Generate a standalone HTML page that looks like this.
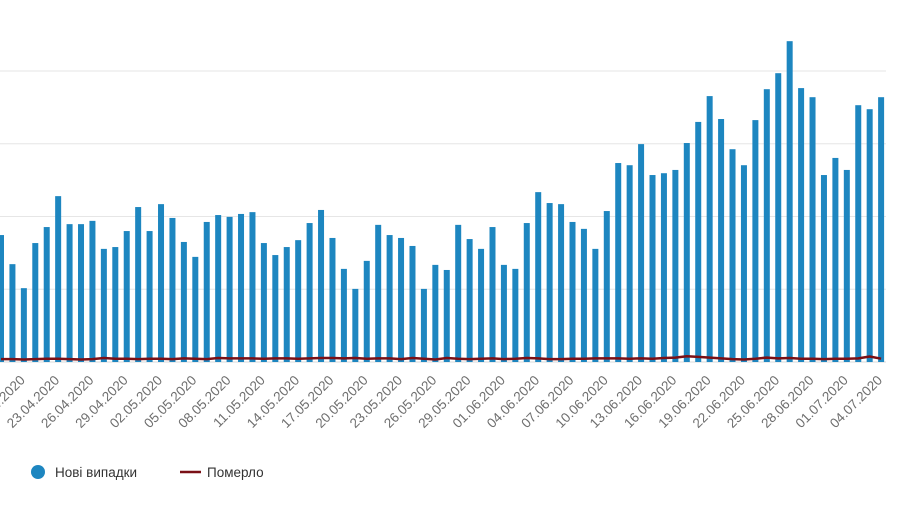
<!DOCTYPE html>
<html><head><meta charset="utf-8">
<style>
body{margin:0;background:#fff;width:900px;height:505px;overflow:hidden;font-family:"Liberation Sans",sans-serif}
svg text{font-family:"Liberation Sans",sans-serif}
</style></head>
<body>
<svg id="chart" width="900" height="505" xmlns="http://www.w3.org/2000/svg"></svg>
<script>
const startDate = [18, 4, 2020];
const newCases = [349,269,203,327,371,456,379,379,388,311,316,360,426,360,434,396,330,289,385,404,399,407,412,327,294,316,335,382,418,341,256,201,278,377,349,341,319,201,267,253,377,338,311,371,267,256,382,467,437,434,385,366,311,415,547,541,599,514,519,528,602,660,731,668,585,541,665,750,794,882,753,728,514,561,528,706,695,728];
const deaths = [8,8,7,8,9,9,8,7,8,11,9,9,8,9,9,8,10,9,8,11,10,10,10,9,10,10,9,10,11,11,10,11,9,10,10,8,11,9,7,11,9,8,9,10,8,9,11,10,8,8,9,9,10,10,10,9,10,9,11,12,16,14,12,10,8,7,9,12,10,11,9,9,8,9,9,10,15,9];
const yTicks = [0,200,400,600,800];

const svg = document.getElementById('chart');
const NS = 'http://www.w3.org/2000/svg';
const x0 = 1, step = 11.43, base = 362, perUnit = 72.75/200;
const xS = i => x0 + i*step;
const yS = v => base - v*perUnit;
function mk(tag, attrs){const e=document.createElementNS(NS,tag);for(const k in attrs)e.setAttribute(k,attrs[k]);svg.appendChild(e);return e;}

yTicks.forEach(t=>{
  const g = mk('line',{x1:0,x2:886,y1:yS(t),y2:yS(t),stroke:t===0?'#d8d8d8':'#e6e6e6','stroke-width':1});
  
  
});

newCases.forEach((v,i)=>{
  const r = mk('rect',{x:xS(i)-3,y:yS(v),width:6,height:v*perUnit,fill:'#1d86c0'});
  
  
});

const pts = deaths.map((v,i)=>xS(i).toFixed(1)+','+yS(v).toFixed(1)).join(' ');
const pl = mk('polyline',{points:pts,fill:'none',stroke:'#7a1016','stroke-width':2.5,'stroke-linejoin':'round'});



const d0 = new Date(startDate[2], startDate[1]-1, startDate[0]);
for(let i=2;i<newCases.length;i+=3){
  const d = new Date(d0.getTime()+i*86400000);
  const s = String(d.getDate()).padStart(2,'0')+'.'+String(d.getMonth()+1).padStart(2,'0')+'.'+d.getFullYear();
  const tx = xS(i)+2, ty = 381;
  const t = mk('text',{x:tx,y:ty,'text-anchor':'end','font-size':13.5,fill:'#6e6e6e',transform:`rotate(-45 ${tx} ${ty})`});
  t.textContent = s;
  
  
}
</script>
<svg style="position:absolute;left:0;top:455px" width="320" height="36">
  <g>
    <circle cx="38" cy="17" r="7" fill="#1d86c0"/>
    <text x="55" y="22" font-size="13.5" fill="#333">Нові випадки</text>
  </g>
  <g>
    <line x1="180" x2="201" y1="17" y2="17" stroke="#7a1016" stroke-width="2.5"/>
    <text x="207" y="22" font-size="13.5" fill="#333">Померло</text>
  </g>
</svg>
</body></html>
